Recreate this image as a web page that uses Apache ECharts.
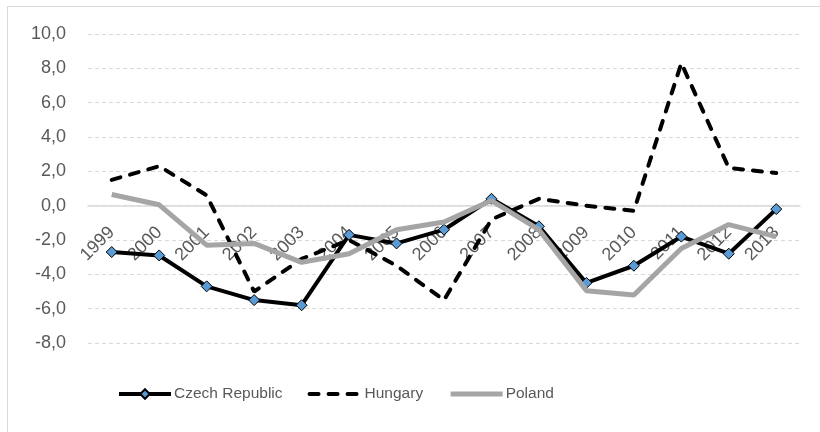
<!DOCTYPE html>
<html>
<head>
<meta charset="utf-8">
<script src="https://cdn.jsdelivr.net/npm/echarts@6/dist/echarts.min.js"></script>
<style>html,body{margin:0;padding:0;background:#fff}#c{width:820px;height:432px}</style>
</head>
<body>
<div id="c"></div>
<script>
const years = ['1999','2000','2001','2002','2003','2004','2005','2006','2007','2008','2009','2010','2011','2012','2013'];
const czech = [-2.7, -2.9, -4.7, -5.5, -5.8, -1.7, -2.2, -1.4, 0.4, -1.2, -4.5, -3.5, -1.8, -2.8, -0.2];
const hungary = [1.5, 2.3, 0.6, -5.0, -3.1, -2.0, -3.5, -5.5, -0.8, 0.4, 0.0, -0.3, 8.3, 2.2, 1.9];
const poland = [0.65, 0.05, -2.3, -2.2, -3.3, -2.8, -1.4, -0.95, 0.3, -1.4, -4.95, -5.2, -2.5, -1.1, -1.8];
const yTicks = [-8, 10, 2];

const chart = echarts.init(document.getElementById('c'));
const font = 'Liberation Sans';
const option = {
  animation: false,
  backgroundColor: '#fff',
  graphic: [{
    type: 'rect', left: 5, top: 4, shape: {width: 830, height: 440},
    style: {fill: 'none', stroke: '#d9d9d9', lineWidth: 1}
  }],
  grid: {left: 88, right: 20, top: 34, bottom: 89},
  legend: {
    bottom: 25, left: 112, itemWidth: 52, itemHeight: 12, itemGap: 25,
    lineStyle: {width: 'inherit'},
    textStyle: {fontFamily: font, fontSize: 15.5, color: '#595959', padding: [0, 0, 0, -2]},
    data: [
      {name: 'Czech Republic'},
      {name: 'Hungary', itemStyle: {opacity: 0}},
      {name: 'Poland', itemStyle: {opacity: 0}}
    ]
  },
  xAxis: {
    type: 'category', data: years, boundaryGap: true, offset: 0,
    axisLine: {onZero: false, lineStyle: {color: '#d9d9d9', width: 1.5}},
    axisTick: {show: false},
    axisLabel: {rotate: 45, margin: 24, fontFamily: font, fontSize: 18, color: '#595959'},
    splitLine: {show: false}
  },
  yAxis: {
    type: 'value', min: yTicks[0], max: yTicks[1], interval: yTicks[2],
    axisLine: {show: false}, axisTick: {show: false},
    axisLabel: {margin: 22, fontFamily: font, fontSize: 18, color: '#595959',
      formatter: v => v.toFixed(1).replace('.', ',')},
    splitLine: {lineStyle: {color: '#d9d9d9', type: [4, 3], width: 1}}
  },
  series: [
    {name: 'Czech Republic', type: 'line', data: czech, z: 2,
     symbol: 'diamond', symbolSize: 11, showSymbol: true,
     lineStyle: {color: '#000', width: 4},
     itemStyle: {color: '#5b9bd5', borderColor: '#000', borderWidth: 1}},
    {name: 'Hungary', type: 'line', data: hungary, z: 3,
     symbol: 'none',
     lineStyle: {color: '#000', width: 4, type: [9, 10], cap: 'round'},
     itemStyle: {color: '#000'}},
    {name: 'Poland', type: 'line', data: poland, z: 4,
     symbol: 'none',
     lineStyle: {color: '#a5a5a5', width: 5},
     itemStyle: {color: '#a5a5a5'}}
  ]
};
chart.setOption(option);
// move the category axis onto the value 0 line
const zeroY = chart.convertToPixel({yAxisIndex: 0}, 0);
const minY = chart.convertToPixel({yAxisIndex: 0}, yTicks[0]);
chart.setOption({xAxis: {offset: zeroY - minY}});
</script>
</body>
</html>
